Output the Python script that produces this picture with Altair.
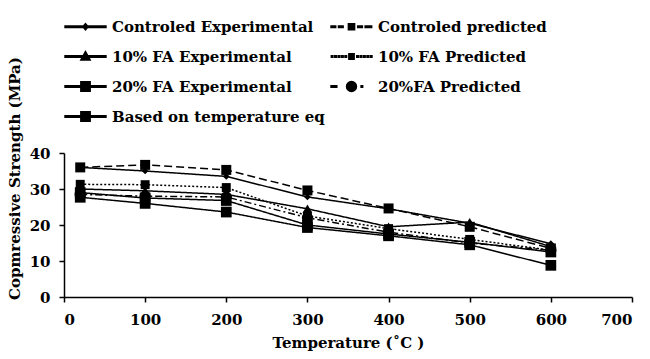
import altair as alt
import pandas as pd

temps = [20, 100, 200, 300, 400, 500, 600]
series_names = [
    "Controled Experimental",
    "Controled predicted",
    "10% FA  Experimental",
    "10% FA Predicted",
    "20% FA  Experimental",
    "20%FA Predicted",
    "Based on temperature eq",
]
ctrl_exp = [36.0, 35.0, 33.5, 27.8, 24.5, 20.5, 14.8]
ctrl_pred = [36.0, 36.7, 35.3, 29.6, 24.6, 19.5, 13.5]
fa10_exp = [30.0, 29.5, 28.5, 24.5, 19.5, 20.8, 14.0]
fa10_pred = [31.3, 31.2, 30.4, 22.5, 19.0, 16.0, 13.0]
fa20_exp = [27.7, 26.0, 23.6, 19.3, 17.0, 14.5, 8.8]
fa20_pred = [28.5, 28.0, 27.8, 22.0, 18.0, 15.0, 13.0]
temp_eq = [29.0, 27.5, 26.8, 20.0, 17.5, 15.2, 12.5]
all_vals = [ctrl_exp, ctrl_pred, fa10_exp, fa10_pred, fa20_exp, fa20_pred, temp_eq]

rows = []
for name, vals in zip(series_names, all_vals):
    for t, v in zip(temps, vals):
        rows.append({"series": name, "temp": t, "val": v})
df = pd.DataFrame(rows)

dash_range = [[1, 0], [8, 4], [1, 0], [2, 2], [1, 0], [7, 3, 2, 3], [1, 0]]
marker_shapes = ["diamond", "square", "triangle-up", "square", "square", "circle", "square"]
marker_sizes = [45, 100, 95, 80, 115, 125, 115]


# legend glyphs: line pieces drawn as thin filled bars plus the marker
def bar(x1, x2, t=0.05):
    return f"M{x1:.2f},-{t}H{x2:.2f}V{t}H{x1:.2f}Z"


def sq(h):
    return f"M-{h},-{h}H{h}V{h}H-{h}Z"


line_full = bar(-1.32, 1.32)
dashes = "".join(bar(a, a + 0.3) for a in [-1.32, -0.84, 0.40, 0.88]) + bar(1.22, 1.30)
dots = "".join(
    bar(a, a + 0.1, 0.045)
    for a in [-1.30, -1.08, -0.86, -0.64, -0.42, 0.34, 0.56, 0.78, 1.00, 1.22]
)
circle = "M-0.32,0A0.32,0.32 0 1,1 0.32,0A0.32,0.32 0 1,1 -0.32,0Z"
legend_paths = [
    line_full + "M0,-0.2L0.17,0L0,0.2L-0.17,0Z",
    dashes + sq(0.2),
    line_full + "M0,-0.32L0.3,0.22L-0.3,0.22Z",
    dots + sq(0.17),
    line_full + sq(0.3),
    bar(-1.32, -0.95) + circle + bar(0.62, 0.72),
    line_full + sq(0.3),
]
# legend fills column by column: left column experimental, right column predicted
legend_order = [0, 2, 4, 6, 1, 3, 5]
legend_domain = [series_names[i] for i in legend_order]
legend_range = [legend_paths[i] for i in legend_order]

FONT = "DejaVu Serif"

x_enc = alt.X(
    "temp:Q",
    scale=alt.Scale(domain=[0, 700], nice=False),
    axis=alt.Axis(
        values=[0, 100, 200, 300, 400, 500, 600, 700],
        title="Temperature (˚C )",
        grid=False,
        labelPadding=10,
        titlePadding=8,
    ),
)
y_enc = alt.Y(
    "val:Q",
    scale=alt.Scale(domain=[0, 40], nice=False),
    axis=alt.Axis(
        values=[0, 10, 20, 30, 40],
        title="Copmressive Strength (MPa)",
        grid=False,
        labelPadding=9,
        titleX=-50,
        titleY=25,
        titleAlign="center",
        titleBaseline="middle",
        titleAngle=270,
    ),
)

base = alt.Chart(df).encode(x=x_enc, y=y_enc)

lines = base.mark_line(color="black", strokeWidth=1.5).encode(
    strokeDash=alt.StrokeDash("series:N", scale=alt.Scale(domain=series_names, range=dash_range), legend=None),
    detail="series:N",
)

point_layers = [
    base.transform_filter(alt.datum.series == name).mark_point(
        filled=True, color="black", opacity=1, shape=shp, size=sz
    )
    for name, shp, sz in zip(series_names, marker_shapes, marker_sizes)
]

leg = base.transform_filter("false").mark_point(
    fill="black", stroke="black", strokeWidth=1.5, opacity=1
).encode(
    shape=alt.Shape(
        "series:N",
        scale=alt.Scale(domain=legend_domain, range=legend_range),
        legend=alt.Legend(
            title=None,
            orient="none",
            legendX=5,
            legendY=-143,
            columns=2,
            columnPadding=3,
            rowPadding=5,
            padding=0,
            symbolSize=961,
            symbolOpacity=1,
            symbolFillColor="black",
            labelOffset=10,
            labelFontSize=15,
            labelFont=FONT,
            labelFontWeight="bold",
            labelColor="black",
            labelLimit=400,
        ),
    ),
)

chart = (
    alt.layer(lines, *point_layers, leg)
    .properties(
        width=568,
        height=144,
        autosize=alt.AutoSizeParams(type="none"),
        padding={"left": 64, "top": 153, "right": 18, "bottom": 62},
        background="white",
    )
    .configure_view(stroke=None)
    .configure_axis(
        labelFont=FONT,
        labelFontSize=15,
        labelFontWeight="bold",
        labelColor="black",
        titleFont=FONT,
        titleFontSize=15,
        titleFontWeight="bold",
        titleColor="black",
        domainColor="black",
        domainWidth=1.5,
        tickColor="black",
        tickWidth=1.5,
        tickSize=5,
    )
)

chart.save("out.html", embed_options={"renderer": "svg", "actions": False})
